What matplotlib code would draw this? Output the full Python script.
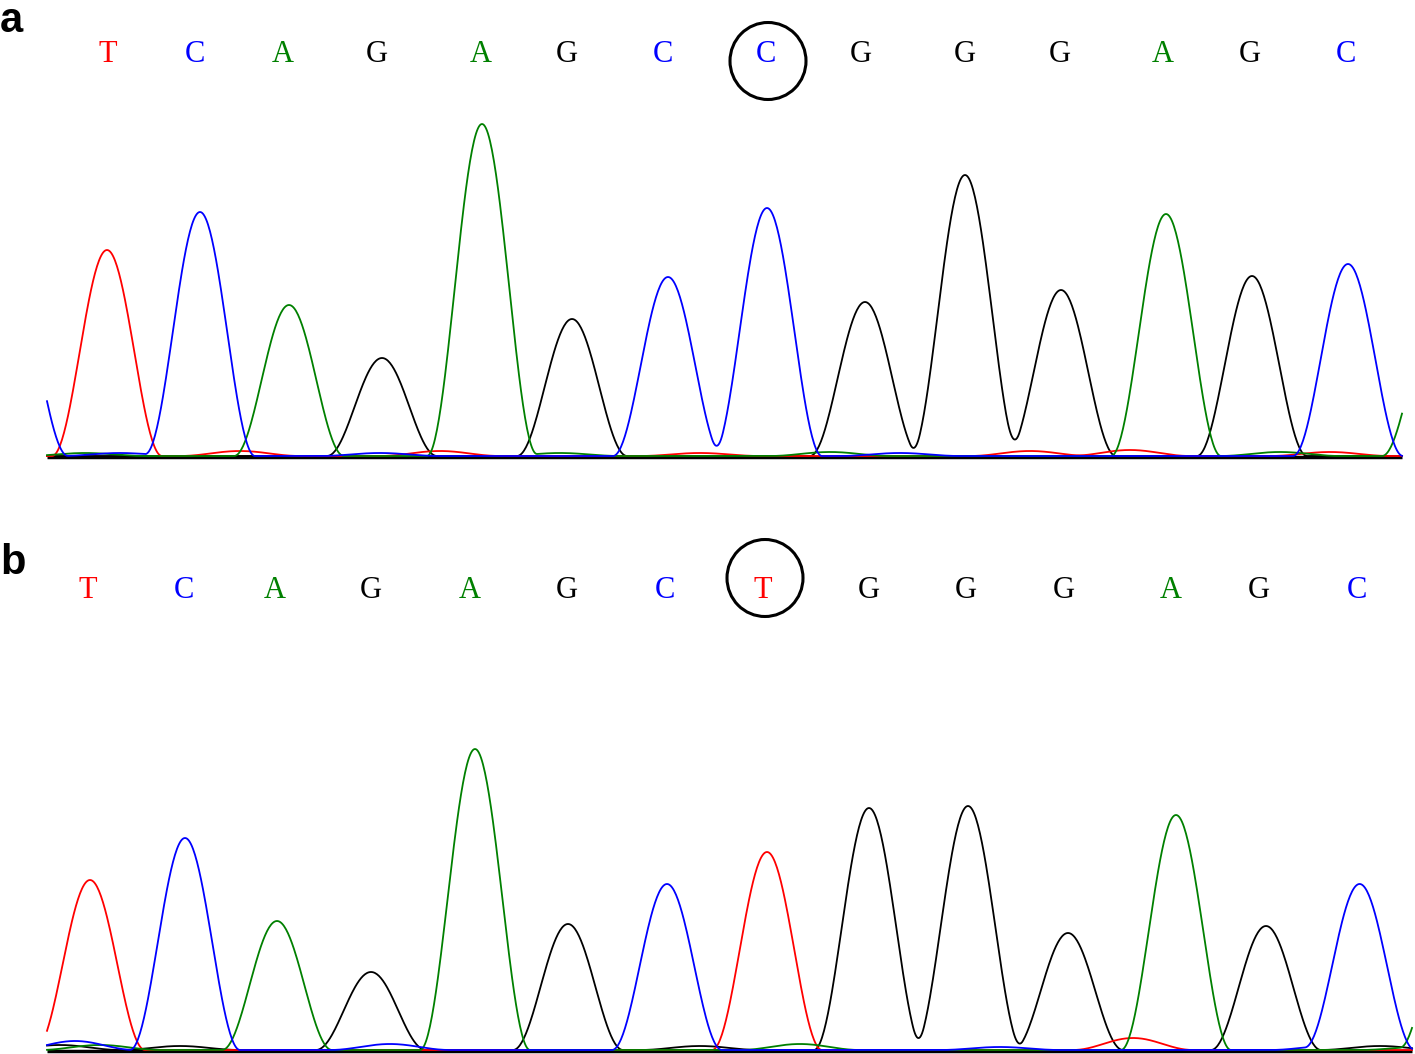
import numpy as np
from matplotlib import pyplot as plt
from matplotlib.patches import Ellipse

# base calls and colours
colors = {'A': '#008000', 'C': '#0000ff', 'G': '#000000', 'T': '#ff0000'}

# panel a (wild type)
seq_a = ['T', 'C', 'A', 'G', 'A', 'G', 'C', 'C', 'G', 'G', 'G', 'A', 'G', 'C']
letter_x_a = [108, 195, 283, 377, 481, 567, 663, 766, 861, 965, 1060, 1163, 1250, 1346]
peak_x_a = [107, 200, 289, 382, 482, 572, 668, 767, 865, 965, 1061, 1166, 1252, 1348]
peak_h_a = [206, 244, 151, 98, 332, 137, 179, 248, 154, 281, 166, 242, 180, 192]
edge_a = [('C', 13, 172), ('A', 1437, 145)]
minor_a = [('A', 85, 3), ('C', 120, 3), ('T', 240, 5), ('C', 380, 3), ('T', 440, 5),
           ('A', 560, 3), ('T', 700, 3), ('A', 830, 4), ('C', 900, 3), ('T', 1030, 5),
           ('T', 1130, 6), ('A', 1280, 4), ('T', 1330, 4)]
mut_a = 7

# panel b (mutant)
seq_b = ['T', 'C', 'A', 'G', 'A', 'G', 'C', 'T', 'G', 'G', 'G', 'A', 'G', 'C']
letter_x_b = [88, 184, 275, 371, 470, 567, 665, 763, 869, 966, 1064, 1171, 1259, 1357]
peak_x_b = [90, 185, 277, 371, 475, 568, 667, 767, 869, 968, 1068, 1176, 1266, 1360]
peak_h_b = [170, 212, 129, 78, 301, 126, 166, 198, 242, 244, 117, 235, 124, 164]
edge_b = [('A', 1455, 170)]
minor_b = [('C', 75, 9), ('A', 100, 5), ('G', 60, 5), ('G', 180, 4), ('C', 390, 6),
           ('G', 700, 4), ('A', 800, 6), ('C', 1000, 3), ('T', 1133, 12), ('C', 1330, 4),
           ('G', 1380, 4), ('A', 1420, 3)]
mut_b = 7

HALF_W = 55


def bump(x, px, ph, w):
    d = np.clip(np.abs(x - px) / w, 0, 1)
    return ph * np.cos(d * np.pi / 2) ** 2


def draw_panel(ax, seq, letter_x, peak_x, peak_h, edge, minor, mut, x0, x1, letter_y, circle_y):
    x = np.arange(x0, x1 + 1, 1.0)
    traces = {b: np.zeros_like(x) for b in colors}
    for b, px, ph in zip(seq, peak_x, peak_h):
        traces[b] += bump(x, px, ph, HALF_W)
    for b, px, ph in edge:
        traces[b] += bump(x, px, ph, HALF_W)
    for b, px, ph in minor:
        traces[b] += bump(x, px, ph, 60)

    ax.plot([x0, x1], [-1, -1], color='black', lw=2.5, solid_capstyle='butt')
    for b in ['G', 'T', 'A', 'C']:
        ax.plot(x, traces[b], color=colors[b], lw=1.3)

    for b, lx in zip(seq, letter_x):
        ax.text(lx, letter_y, b, color=colors[b], ha='center', va='center',
                family='Liberation Serif', fontsize=22)

    ax.add_patch(Ellipse((letter_x[mut] + 2, circle_y), 76, 77, fill=False,
                         ec='black', lw=2.2))


fig = plt.figure(figsize=(14.15, 10.54), dpi=100)

ax_a = fig.add_axes([0, 1 - 460 / 1054, 1, 460 / 1054])
ax_a.set_xlim(0, 1415)
ax_a.set_ylim(-4, 456)
ax_a.axis('off')
draw_panel(ax_a, seq_a, letter_x_a, peak_x_a, peak_h_a, edge_a, minor_a, mut_a,
           47, 1402, 402, 395)

ax_b = fig.add_axes([0, 0, 1, 524 / 1054])
ax_b.set_xlim(0, 1415)
ax_b.set_ylim(-4, 520)
ax_b.axis('off')
draw_panel(ax_b, seq_b, letter_x_b, peak_x_b, peak_h_b, edge_b, minor_b, mut_b,
           47, 1412, 460, 472)

fig.text(0, 1 - 32 / 1054, 'a', fontsize=30, fontweight='bold', family='Liberation Sans',
         ha='left', va='baseline')
fig.text(0, 1 - 574 / 1054, 'b', fontsize=30, fontweight='bold', family='Liberation Sans',
         ha='left', va='baseline')

fig.savefig('out.png', dpi=100)
